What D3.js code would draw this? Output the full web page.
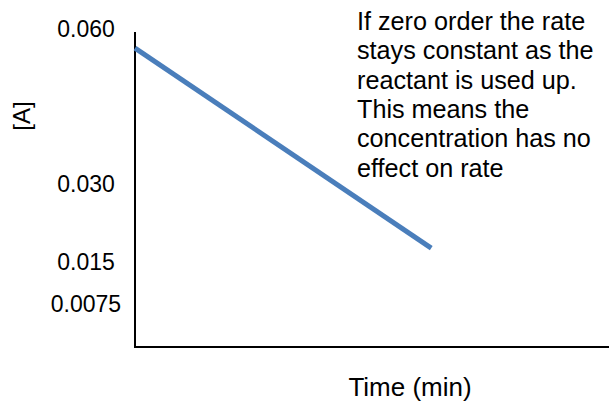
<!DOCTYPE html>
<html><head><meta charset="utf-8">
<script src="https://cdn.jsdelivr.net/npm/d3@7"></script>
<style>body{margin:0;background:#fff}svg{display:block;font-family:"Liberation Sans",Arial,sans-serif}</style>
</head><body><svg id="c" width="609" height="402"></svg>
<script>
const times = [0, 5];
const conc = [0.0563, 0.0176];
const yTickLabels = ["0.060", "0.030", "0.015", "0.0075"];
const yTickValues = [0.060, 0.030, 0.015, 0.0075];
const note = ["If zero order the rate", "stays constant as the", "reactant is used up.", "This means the", "concentration has no", "effect on rate"];
const xTitle = "Time (min)";
const yTitle = "[A]";

const svg = d3.select("#c");
const x = d3.scaleLinear().domain([0, 8]).range([135, 609]);
const y = d3.scaleLinear().domain([0, 0.060]).range([339, 29]);

// axes
svg.append("line").attr("x1", 135).attr("x2", 135).attr("y1", 32).attr("y2", 348).attr("stroke", "#000").attr("stroke-width", 2);
svg.append("line").attr("x1", 134).attr("x2", 609).attr("y1", 347).attr("y2", 347).attr("stroke", "#000").attr("stroke-width", 2);

svg.selectAll(".yt").data(yTickValues).join("text")
  .attr("x", 86).attr("y", d => y(d) + (d === 0.0075 ? 3 : 0)).attr("dy", "0.36em")
  .attr("text-anchor", "middle").attr("font-size", 23)
  .text((d, i) => yTickLabels[i]);

const pts = times.map((t, i) => [t, conc[i]]);
svg.append("path").datum(pts)
  .attr("d", d3.line().x(d => x(d[0])).y(d => y(d[1])))
  .attr("fill", "none").attr("stroke", "#4a7ebb").attr("stroke-width", 5);

svg.append("text").attr("x", 410).attr("y", 396).attr("text-anchor", "middle").attr("font-size", 26).text(xTitle);
svg.append("text").attr("transform", "translate(30,116) rotate(-90)").attr("text-anchor", "middle").attr("font-size", 24).text(yTitle);

svg.append("g").selectAll("text").data(note).join("text")
  .attr("x", 357).attr("y", (d, i) => 30 + i * 29.3)
  .attr("font-size", 25.2).text(d => d);
</script></body></html>
